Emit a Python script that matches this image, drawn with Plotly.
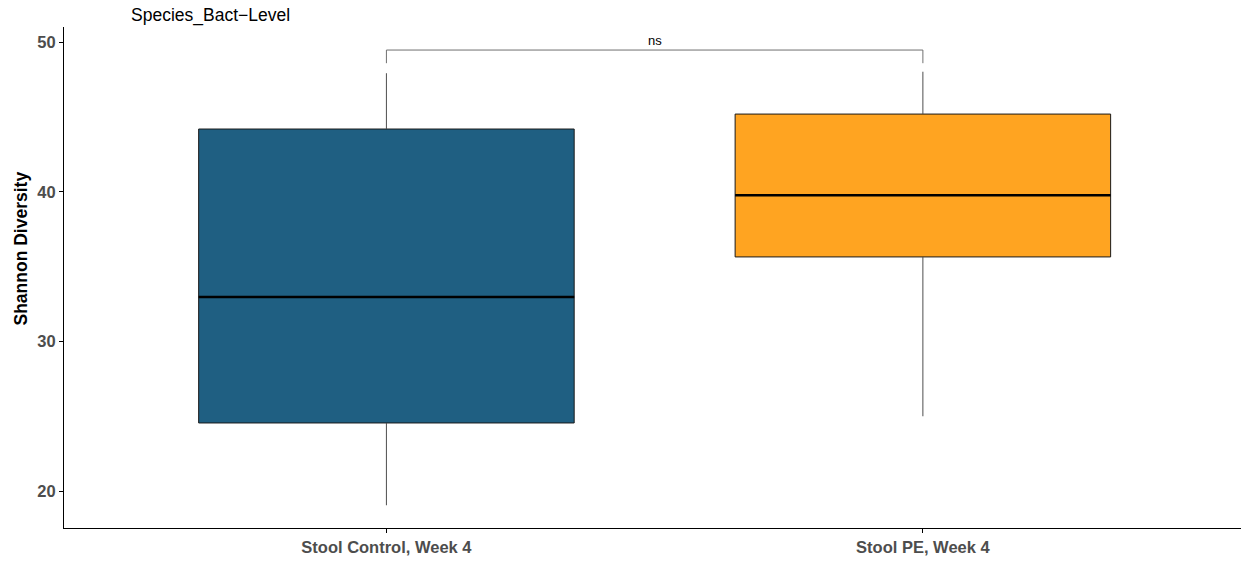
import plotly.graph_objects as go

categories = ["Stool Control, Week 4", "Stool PE, Week 4"]
x_pos = [1, 2]
lower_whisker = [19.05, 25.0]
q1 = [24.55, 35.65]
median = [32.97, 39.78]
q3 = [44.2, 45.2]
upper_whisker = [47.93, 48.03]
colors = ["#1f5f82", "#ffa421"]
bracket_y = 49.48
bracket_leg_y = 48.6
sig_label = "ns"
title_text = "Species_Bact\u2212Level"
y_title = "Shannon Diversity"
y_ticks = [20, 30, 40, 50]

BOX_W = 0.7
FONT = "Liberation Sans, Arial, sans-serif"

fig = go.Figure()

# whiskers (drawn under the boxes)
for i in range(len(categories)):
    fig.add_trace(go.Scatter(
        x=[x_pos[i], x_pos[i], None, x_pos[i], x_pos[i]],
        y=[lower_whisker[i], q1[i], None, q3[i], upper_whisker[i]],
        mode="lines", line=dict(color="#4d4d4d", width=1),
        showlegend=False, hoverinfo="skip"))

for i in range(len(categories)):
    fig.add_trace(go.Box(
        x=[x_pos[i]], q1=[q1[i]], median=[median[i]], q3=[q3[i]],
        lowerfence=[q1[i]], upperfence=[q3[i]],
        width=BOX_W, fillcolor=colors[i],
        line=dict(color="#1a1a1a", width=1), whiskerwidth=0,
        showlegend=False, boxpoints=False))
    fig.add_trace(go.Scatter(
        x=[x_pos[i] - BOX_W / 2, x_pos[i] + BOX_W / 2],
        y=[median[i], median[i]], mode="lines",
        line=dict(color="black", width=2.5),
        showlegend=False, hoverinfo="skip"))

# significance bracket
fig.add_trace(go.Scatter(
    x=[x_pos[0], x_pos[0], x_pos[1], x_pos[1]],
    y=[bracket_leg_y, bracket_y, bracket_y, bracket_leg_y],
    mode="lines", line=dict(color="#707070", width=1),
    showlegend=False, hoverinfo="skip"))
fig.add_annotation(x=(x_pos[0] + x_pos[1]) / 2, y=bracket_y, text=sig_label,
                   showarrow=False, yanchor="bottom", yshift=0,
                   font=dict(family=FONT, size=13, color="black"))

fig.add_annotation(x=(129 - 64) / 1177, y=1, xref="paper", yref="paper",
                   text=title_text, showarrow=False, xanchor="left", yanchor="bottom",
                   yshift=-1, font=dict(family=FONT, size=17.5, color="black"))

fig.add_annotation(x=-43.5 / 1177, y=(528 - 249) / 501, xref="paper", yref="paper",
                   text=y_title, showarrow=False, textangle=-90,
                   xanchor="center", yanchor="middle",
                   font=dict(family=FONT, size=17.5, color="black", weight="bold"))

fig.update_layout(
    width=1241, height=561,
    margin=dict(l=64, r=0, t=27, b=33),
    plot_bgcolor="white", paper_bgcolor="white",
    xaxis=dict(range=[0.399, 2.593], tickvals=x_pos, ticktext=categories,
               showgrid=False, zeroline=False, showline=True,
               linecolor="black", linewidth=1, ticks="outside", ticklen=4,
               tickcolor="black",
               tickfont=dict(family=FONT, size=16.5, color="#4d4d4d", weight="bold")),
    yaxis=dict(range=[17.53, 51.02], tickvals=y_ticks,
               showgrid=False, zeroline=False, showline=True,
               linecolor="black", linewidth=1, ticks="outside", ticklen=4,
               tickcolor="black",
               tickfont=dict(family=FONT, size=16.5, color="#4d4d4d", weight="bold")),
)

fig.write_html("out.html")
